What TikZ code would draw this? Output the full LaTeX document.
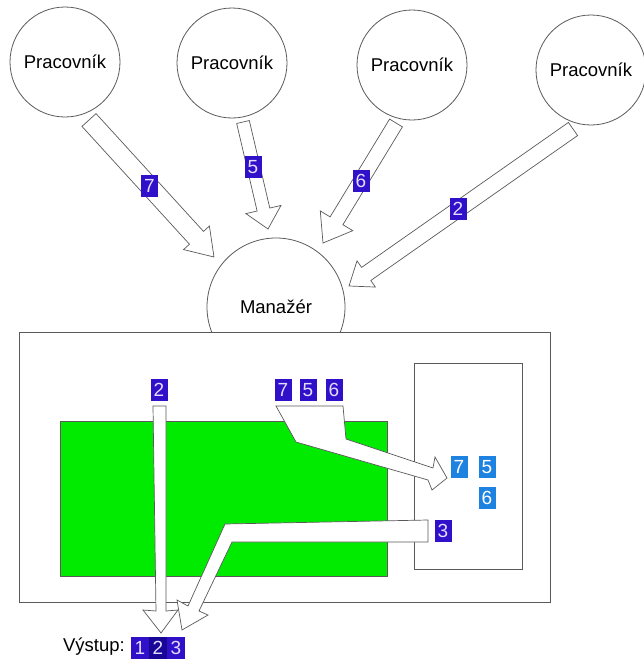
\documentclass[tikz,border=0pt]{standalone}
\usepackage{fontspec}
\setmainfont{Liberation Sans}
\usetikzlibrary{calc}
\definecolor{lblue}{RGB}{48,16,200}
\definecolor{dblue}{RGB}{24,6,150}
\definecolor{sblue}{RGB}{30,130,225}
\definecolor{lgreen}{RGB}{0,235,0}
\definecolor{edge}{RGB}{90,90,90}
\definecolor{numtxt}{RGB}{228,220,255}
\tikzset{
 person/.style={circle, draw=edge, line width=0.8pt, minimum size=110pt, inner sep=0pt, font=\fontsize{18.5}{20}\selectfont},
 num/.style={fill=lblue, text=numtxt, minimum width=17pt, minimum height=22pt, inner sep=0pt, font=\fontsize{19}{19}\selectfont},
 snum/.style={num, fill=sblue, text=white},
 body/.style={draw=edge, fill=white, line width=0.7pt, line join=miter},
 frame/.style={draw=edge, line width=0.9pt, inner sep=0pt, anchor=north west},
}
\newcommand\fatarrow[5]{%
 \coordinate (fab) at ($(#2)!#5!(#1)$);
 \draw[body] ($(#1)!#3!90:(#2)$) -- ($(fab)!#3!-90:(#1)$) -- ($(fab)!#4!-90:(#1)$) -- (#2)
   -- ($(fab)!#4!90:(#1)$) -- ($(fab)!#3!90:(#1)$) -- ($(#1)!#3!-90:(#2)$) -- cycle;}
\begin{document}
\begin{tikzpicture}[x=1pt,y=-1pt]
\useasboundingbox[fill=white] (0,0) rectangle (644,659);
% people
\node[person] (w1) at (65,62) {Pracovník};
\node[person] (w2) at (232,63) {Pracovník};
\node[person] (w3) at (412,65) {Pracovník};
\node[person] (w4) at (591,70) {Pracovník};
\node[person, minimum size=138pt] (m) at (276,307) {Manažér};
% boxes
\node[frame, fill=white, minimum width=531pt, minimum height=270pt] (box) at (19,332) {};
\node[frame, fill=lgreen, minimum width=327pt, minimum height=155pt] (green) at (60,421) {};
\node[frame, fill=white, minimum width=108pt, minimum height=206pt] (rbox) at (414,363) {};
% top arrows
\coordinate (a7s) at (89,120);  \coordinate (a7t) at (214,257);
\coordinate (a5s) at (243,122); \coordinate (a5t) at (268,229);
\coordinate (a6s) at (396,123); \coordinate (a6t) at (323,243);
\coordinate (a2s) at (573,129); \coordinate (a2t) at (349,286);
\fatarrow{a7s}{a7t}{9.5pt}{17.5pt}{26pt}
\fatarrow{a5s}{a5t}{6.5pt}{18pt}{20pt}
\fatarrow{a6s}{a6t}{7.5pt}{19pt}{26pt}
\fatarrow{a2s}{a2t}{8pt}{16pt}{21pt}
\node[num] (n7) at (149.5,185.5) {7};
\node[num] (n5) at (253,167) {5};
\node[num] (n6) at (361,181) {6};
\node[num] (n2) at (458,209) {2};
% inner arrows
\draw[body] (153,406) -- (166,406) -- (166,611) -- (178,610) -- (161,633) -- (143,610) -- (156,611) -- cycle;
\draw[body] (276,406) -- (343,406) -- (346,439) -- (433,468) -- (435,457) -- (447,478)
  -- (432,490) -- (428,480) -- (296,442) -- cycle;
\draw[body] (428,520) -- (225,524) -- (188,606) -- (177,600) -- (182,630) -- (208,615)
  -- (199,611) -- (232,542) -- (428,542) -- cycle;
% labels inside
\node[num] (b2) at (159,390) {2};
\node[num] (b7) at (283,390) {7};
\node[num] (b5) at (308,390) {5};
\node[num] (b6) at (334,390) {6};
\node[snum] (c7) at (459,467) {7};
\node[snum] (c5) at (487,467) {5};
\node[snum] (c6) at (487,498) {6};
\node[num] (b3) at (443,531) {3};
% output
\node[anchor=east, inner sep=0pt, font=\fontsize{18.5}{20}\selectfont] (out) at (125,647) {Výstup:};
\node[num, minimum width=18pt] (o1) at (140,648) {1};
\node[num, minimum width=18pt, fill=dblue] (o2) at (158,648) {2};
\node[num, minimum width=18pt] (o3) at (176,648) {3};
\end{tikzpicture}
\end{document}
